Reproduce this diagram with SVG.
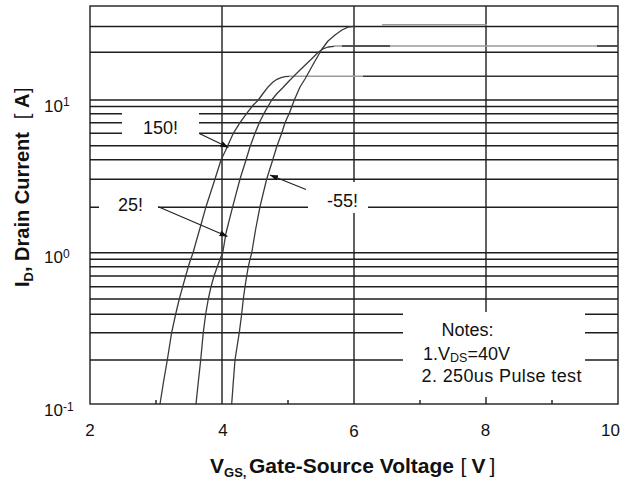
<svg xmlns="http://www.w3.org/2000/svg" width="631" height="482" viewBox="0 0 631 482">
<style>
.grid{stroke:#1e1e1e;stroke-width:1.4;fill:none}
.curve{stroke:#3a3a3a;stroke-width:1.3;fill:none;stroke-linejoin:round;stroke-linecap:round}
.plat{stroke:#9a9a9a;stroke-width:1.4;fill:none}
.platd{stroke:#333;stroke-width:1.4;fill:none}
.box{fill:#fff;stroke:none}
.t{font-family:"Liberation Sans",Arial,sans-serif;fill:#111}
.tick{font-size:17px}
.lbl{font-size:18px}
.ttl{font-size:21px;font-weight:bold}
.arrow{stroke:#222;stroke-width:1.2;fill:none}
</style>
<defs>
<marker id="ah" viewBox="0 0 8 6" refX="8" refY="3" markerWidth="8" markerHeight="6" markerUnits="userSpaceOnUse" orient="auto">
<path d="M0,0 L8,3 L0,6 z" fill="#111"/>
</marker>
</defs>
<rect width="631" height="482" fill="#fff"/>
<g id="grid">
<rect x="90" y="6" width="528" height="398" class="grid"/>
<path class="grid" d="M90,26.5H618M90,52.3H618M90,100H618M90,106.5H618M90,113.7H618M90,122.7H618M90,133.3H618M90,145.7H618M90,159.7H618M90,179.3H618M90,207.3H618M90,252.7H618M90,259.3H618M90,266.7H618M90,276H618M90,286.7H618M90,299H618M90,314.3H618M90,332.7H618M90,360H618"/>
<path class="grid" d="M222,6V404M354,6V404M486,6V404"/>
<path class="grid" d="M156,400V404M288,400V404M420,400V404M552,400V404"/>
</g>
<g id="curve-150">
<polyline class="curve" points="160,404 163.5,382 167.3,360 171.7,332.3 175.7,314 179.3,299 182.7,286.7 185.7,276 188.3,266.7 190.7,259.3 193,253 196.6,240 200.9,225 206,206.7 215,179 221,160 227.3,146.7 233.3,133.3 240,122.7 246.7,113.3 253.3,105 258.3,100 263,93.5 268.3,86.7 273,82 277,79.3 281,77.6 285,76.7 289,76.3"/>
<path class="plat" d="M289,76.3H363"/>
<path class="platd" d="M363,76.3H618"/>
</g>
<g id="curve-25">
<polyline class="curve" points="196,404 198.3,382 200.7,360 203.3,332.3 205.7,314 208.3,299 211,286.7 214,276 217.3,266.7 220,259.3 222.7,253 226,233 232.7,206.7 240,179 246,160 250,146.7 255,133.3 259.3,122.7 264,113.3 271.7,100 277,93.5 282.5,88 290,80 300,70 311,59.5 318,52.5 323,48.8 328,47 334,46.3"/>
<path class="plat" d="M334,46H618"/>
<path class="platd" d="M342,46H390M597,46H618"/>
</g>
<g id="curve-m55">
<polyline class="curve" points="231.7,404 233.3,382 235,360 239.3,332.3 241.7,314 243.3,299 245,286.7 246.7,276 248.3,266.7 250,259.3 251.7,253 255.5,230 260,206.7 266.7,179 272.7,160 276.7,146.7 281.7,133.3 285,122.7 289.3,113.3 294.3,100 300,87 305,79 310,70 315,61 321.7,49.5 328,41 335,35 342,30 348,27.2 354,26.3"/>
<path class="plat" d="M382,24.8H487"/>
</g>
<g id="label-150">
<rect class="box" x="122" y="109" width="77" height="31"/>
<text class="t lbl" x="143" y="134">150!</text>
</g>
<g id="label-25">
<rect class="box" x="99" y="190" width="59" height="34"/>
<text class="t lbl" x="118" y="211">25!</text>
</g>
<g id="label-m55">
<rect class="box" x="308" y="182" width="60" height="31"/>
<text class="t lbl" x="327" y="206.5">-55!</text>
</g>
<g id="connectors">
<line class="arrow" x1="199.3" y1="133.5" x2="228.5" y2="147.5" marker-end="url(#ah)"/>
<line class="arrow" x1="158.3" y1="206.7" x2="227.5" y2="236.5" marker-end="url(#ah)"/>
<line class="arrow" x1="306" y1="189.5" x2="270" y2="175" marker-end="url(#ah)"/>
</g>
<g id="notes">
<rect class="box" x="403" y="312" width="182" height="85"/>
<text class="t lbl" x="441.5" y="336">Notes:</text>
<text class="t lbl" x="423" y="360">1.V<tspan font-size="12.5" dy="2.2">DS</tspan><tspan dy="-2.2">=40V</tspan></text>
<text class="t lbl" x="421.5" y="381.5" textLength="160">2. 250us Pulse test</text>
</g>
<g id="x-ticks" class="t tick" text-anchor="middle">
<text x="90" y="436">2</text>
<text x="223" y="436">4</text>
<text x="354" y="437">6</text>
<text x="485.5" y="435.5">8</text>
<text x="610.5" y="435.5">10</text>
</g>
<g id="y-ticks" class="t tick">
<text x="44" y="111.5">10<tspan font-size="12" dy="-5.5">1</tspan></text>
<text x="44" y="263">10<tspan font-size="12" dy="-5.5">0</tspan></text>
<text x="44" y="416">10<tspan font-size="12" dy="-5">-1</tspan></text>
</g>
<g id="x-title">
<text class="t ttl" x="210" y="473">V<tspan font-size="13" dy="4">GS,</tspan><tspan x="249" dy="-4">Gate-Source Voltage</tspan><tspan x="460.4" font-weight="normal">[</tspan><tspan x="471.5">V</tspan><tspan x="489.6" font-weight="normal">]</tspan></text>
</g>
<g id="y-title">
<text class="t" font-size="20" font-weight="bold" transform="translate(28.5,287) rotate(-90)" x="0" y="0">I<tspan font-size="13" dy="4">D</tspan><tspan dy="-4">, Drain Current</tspan><tspan x="167.7" font-weight="normal">[</tspan><tspan x="179">A</tspan><tspan x="194" font-weight="normal">]</tspan></text>
</g>
</svg>
